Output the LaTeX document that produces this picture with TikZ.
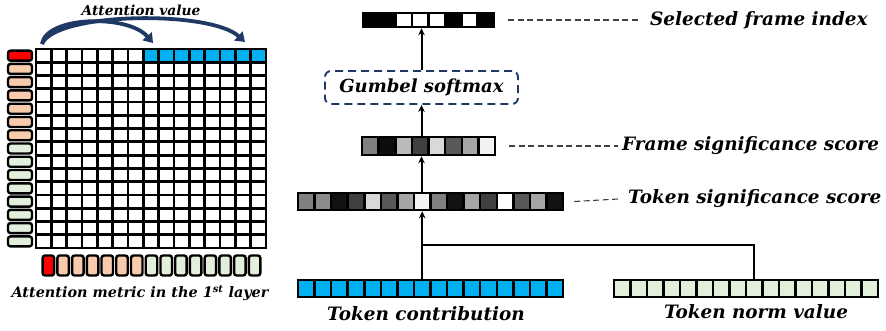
\documentclass[tikz,border=0pt]{standalone}
\usepackage{fontspec}
\setmainfont{DejaVu Serif}
\usetikzlibrary{arrows.meta}
\definecolor{cblue}{HTML}{00B0F0}
\definecolor{cpeach}{HTML}{F8CBAD}
\definecolor{cgreen}{HTML}{E2EFDA}
\definecolor{cred}{HTML}{FF0000}
\definecolor{navy}{HTML}{1F3864}
\definecolor{leadgray}{HTML}{404040}
\newcommand\cellbar[6]{%
  \foreach \c [count=\i] in {#6} {%
    \node[cellbox, fill=\c, minimum width=#4, minimum height=#5] (#1\i) at ({#2+(\i-0.5)*#4}, #3) {};}}
\begin{document}
\begin{tikzpicture}[x=1pt,y=-1pt,
  cellbox/.style={draw=black, line width=2.5pt, inner sep=0pt},
  pill/.style={draw=black, line width=2.4pt, rounded corners=2.5pt, inner sep=0pt},
  lab/.style={font=\bfseries\itshape\fontsize{#1}{#1}\selectfont, inner sep=0pt},
  lab/.default=18.4,
  arr/.style={line width=2pt, -{Stealth[length=7pt,width=6.5pt]}},
  leader/.style={leadgray, line width=1.1pt, dash pattern=on 6pt off 3.5pt},
  navyarrow/.style={navy, line width=3.8pt, -{Triangle[length=9pt,width=12pt]}}]
\useasboundingbox (0,0) rectangle (886,330);
% ---------- attention matrix ----------
\def\cw{15.333}\def\ch{13.267}
\fill[white] (36,49) rectangle (266,248);
\foreach \j in {8,...,15} \fill[cblue] ({36+(\j-1)*\cw},49) rectangle ({36+\j*\cw},{49+\ch});
\foreach \k in {0,...,15} {
  \draw[line width=2.8pt] ({36+\k*\cw},47.6) -- ({36+\k*\cw},249.4);
  \draw[line width=2.8pt] (34.6,{49+\k*\ch}) -- (267.4,{49+\k*\ch});}
% left bars
\foreach \c [count=\i] in {cred,cpeach,cpeach,cpeach,cpeach,cpeach,cpeach,cgreen,cgreen,cgreen,cgreen,cgreen,cgreen,cgreen,cgreen}
  \node[pill, fill=\c, minimum width=24pt, minimum height=10pt] (lb\i) at (20,{49+(\i-0.5)*\ch}) {};
% bottom bars
\foreach \c [count=\i] in {cred,cpeach,cpeach,cpeach,cpeach,cpeach,cpeach,cgreen,cgreen,cgreen,cgreen,cgreen,cgreen,cgreen,cgreen}
  \node[pill, fill=\c, minimum width=11.5pt, minimum height=20pt] (bb\i) at ({41+(\i-0.5)*14.73},265.5) {};
\node[lab=14.4] (lmet) at (140,293) {Attention metric in the 1\textsuperscript{st} layer};
\node[lab=13.8] (lav) at (141,10) {Attention value};
\coordinate (av0) at (42,44);
\coordinate (av1) at (153,43);
\coordinate (av2) at (245,42);
\draw[navyarrow] (av0) .. controls (46,16) and (128,14) .. (av1);
\draw[navyarrow] (av0) .. controls (55,12) and (210,10) .. (av2);
% ---------- right pipeline ----------
\cellbar{sel}{363}{20}{16.375}{14}{black,black,white,white,white,black,white,black}
\cellbar{fs}{362}{146}{16.625}{18}{black!50,black!95,black!27,black!75,black!15,black!65,black!35,black!5}
\cellbar{ts}{298}{201.5}{16.5625}{17}{black!50,black!45,black!93,black!75,black!15,black!65,black!35,black!5,black!50,black!93,black!35,black!75,white,black!65,black!35,black!93}
\cellbar{tc}{298}{288.5}{16.5625}{17}{cblue,cblue,cblue,cblue,cblue,cblue,cblue,cblue,cblue,cblue,cblue,cblue,cblue,cblue,cblue,cblue}
\cellbar{tn}{614}{288.5}{16.5}{17}{cgreen,cgreen,cgreen,cgreen,cgreen,cgreen,cgreen,cgreen,cgreen,cgreen,cgreen,cgreen,cgreen,cgreen,cgreen,cgreen}
\node[draw=navy, line width=1.9pt, dash pattern=on 8pt off 5pt, rounded corners=6pt,
      minimum width=193pt, minimum height=33pt, inner sep=0pt,
      font=\bfseries\itshape\fontsize{18}{18}\selectfont] (gum) at (421.5,87.5) {Gumbel softmax};
% arrows
\draw[arr] (gum.north) -- (gum.north |- sel4.south);
\coordinate (j) at (tc8.north |- 0,245);
\draw[arr] (tc8.north) -- (tc8.north |- ts8.south);
\draw[arr] (ts8.north -| gum.south) -- (gum.south |- fs4.south);
\draw[arr] (fs4.north -| gum.south) -- (gum.south);
\draw[line width=2pt] (j) -| (tn9.north);
% labels
\node[lab, anchor=west] (lsel) at (650,20) {Selected frame index};
\node[lab, anchor=west] (lfs) at (622,146) {Frame significance score};
\node[lab, anchor=west] (lts) at (628,199) {Token significance score};
\node[lab] (ltc) at (426,314) {Token contribution};
\node[lab] (ltn) at (756,312) {Token norm value};
\draw[leader] ([xshift=13pt]sel8.east) -- ([xshift=-10pt]lsel.west);
\draw[leader] ([xshift=13pt]fs8.east) -- ([xshift=-4pt]lfs.west);
\draw[leader] ([xshift=10pt]ts16.east) -- ([xshift=-10pt]lts.west);
\end{tikzpicture}
\end{document}
